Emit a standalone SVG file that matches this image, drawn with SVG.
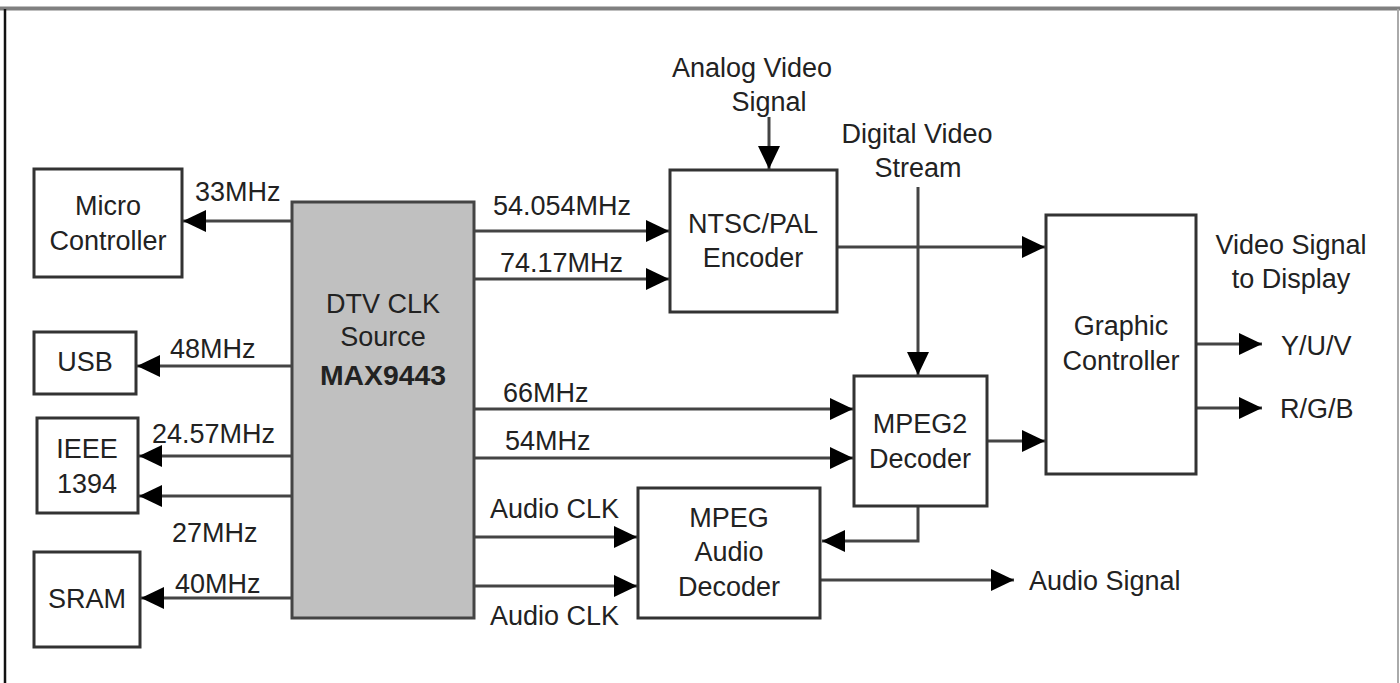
<svg xmlns="http://www.w3.org/2000/svg" width="1400" height="683" viewBox="0 0 1400 683">
<defs>
<style>
text{font-family:"Liberation Sans",Arial,sans-serif;font-size:27px;fill:#222}
.c{text-anchor:middle}
.b{font-weight:bold}
.box{fill:#fff;stroke:#333;stroke-width:3}
.src{fill:#c0c0c0;stroke:#444;stroke-width:3}
.ln{fill:none;stroke:#444;stroke-width:3}
</style>
<marker id="ah" markerUnits="userSpaceOnUse" markerWidth="24" markerHeight="22" refX="23" refY="11" orient="auto">
<path d="M0,0 L23,11 L0,22 z" fill="#000"/>
</marker>
</defs>
<rect width="1400" height="683" fill="#fff"/>
<g id="frame">
<line x1="0" y1="8.5" x2="1400" y2="8.5" stroke="#808080" stroke-width="4"/>
<line x1="5" y1="9" x2="5" y2="683" stroke="#111" stroke-width="2.5"/>
<line x1="1398" y1="9" x2="1398" y2="683" stroke="#aaa" stroke-width="2"/>
</g>
<g id="connectors">
<line class="ln" x1="292" y1="221" x2="183" y2="221" marker-end="url(#ah)"/>
<line class="ln" x1="292" y1="366" x2="137" y2="366" marker-end="url(#ah)"/>
<line class="ln" x1="292" y1="456" x2="139" y2="456" marker-end="url(#ah)"/>
<line class="ln" x1="292" y1="496" x2="139" y2="496" marker-end="url(#ah)"/>
<line class="ln" x1="292" y1="598" x2="141" y2="598" marker-end="url(#ah)"/>
<line class="ln" x1="475" y1="231" x2="669" y2="231" marker-end="url(#ah)"/>
<line class="ln" x1="475" y1="279" x2="669" y2="279" marker-end="url(#ah)"/>
<line class="ln" x1="769" y1="117" x2="769" y2="169" marker-end="url(#ah)"/>
<line class="ln" x1="918" y1="187" x2="918" y2="375" marker-end="url(#ah)"/>
<line class="ln" x1="837" y1="247" x2="1045" y2="247" marker-end="url(#ah)"/>
<line class="ln" x1="475" y1="409" x2="853" y2="409" marker-end="url(#ah)"/>
<line class="ln" x1="475" y1="458" x2="853" y2="458" marker-end="url(#ah)"/>
<line class="ln" x1="987" y1="441" x2="1045" y2="441" marker-end="url(#ah)"/>
<polyline class="ln" points="918,506 918,541 822,541" marker-end="url(#ah)"/>
<line class="ln" x1="475" y1="537" x2="637" y2="537" marker-end="url(#ah)"/>
<line class="ln" x1="475" y1="586" x2="637" y2="586" marker-end="url(#ah)"/>
<line class="ln" x1="820" y1="580" x2="1014" y2="580" marker-end="url(#ah)"/>
<line class="ln" x1="1196" y1="344" x2="1262" y2="344" marker-end="url(#ah)"/>
<line class="ln" x1="1196" y1="408" x2="1262" y2="408" marker-end="url(#ah)"/>
<text x="195" y="201">33MHz</text>
<text x="170" y="358">48MHz</text>
<text x="152" y="443">24.57MHz</text>
<text x="172" y="542">27MHz</text>
<text x="175" y="593">40MHz</text>
<text x="493" y="215">54.054MHz</text>
<text x="500" y="272">74.17MHz</text>
<text x="503" y="402">66MHz</text>
<text x="505" y="450">54MHz</text>
<text x="490" y="518">Audio CLK</text>
<text x="490" y="625">Audio CLK</text>
<text class="c" x="752" y="77">Analog Video</text>
<text class="c" x="769" y="111">Signal</text>
<text class="c" x="917" y="143">Digital Video</text>
<text class="c" x="918" y="177">Stream</text>
<text class="c" x="1291" y="254">Video Signal</text>
<text class="c" x="1291" y="288">to Display</text>
<text x="1281" y="355">Y/U/V</text>
<text x="1280" y="418">R/G/B</text>
<text x="1029" y="590">Audio Signal</text>
</g>
<g id="micro">
<rect class="box" x="34" y="169" width="148" height="108"/>
<text class="c" x="108" y="215">Micro</text>
<text class="c" x="108" y="250">Controller</text>
</g>
<g id="usb">
<rect class="box" x="34" y="332" width="102" height="62"/>
<text class="c" x="85" y="371">USB</text>
</g>
<g id="ieee">
<rect class="box" x="37" y="418" width="101" height="95"/>
<text class="c" x="87" y="458">IEEE</text>
<text class="c" x="87" y="493">1394</text>
</g>
<g id="sram">
<rect class="box" x="34" y="552" width="106" height="95"/>
<text class="c" x="87" y="608">SRAM</text>
</g>
<g id="dtv">
<rect class="src" x="292" y="202" width="182" height="416"/>
<text class="c" x="383" y="313">DTV CLK</text>
<text class="c" x="383" y="346">Source</text>
<text class="c b" x="383" y="385" textLength="126" lengthAdjust="spacingAndGlyphs">MAX9443</text>
</g>
<g id="encoder">
<rect class="box" x="670" y="170" width="167" height="142"/>
<text class="c" x="753" y="233">NTSC/PAL</text>
<text class="c" x="753" y="267">Encoder</text>
</g>
<g id="mpeg2">
<rect class="box" x="854" y="376" width="133" height="130"/>
<text class="c" x="920" y="433">MPEG2</text>
<text class="c" x="920" y="468">Decoder</text>
</g>
<g id="audio">
<rect class="box" x="638" y="488" width="182" height="130"/>
<text class="c" x="729" y="527">MPEG</text>
<text class="c" x="729" y="561">Audio</text>
<text class="c" x="729" y="596">Decoder</text>
</g>
<g id="graphic">
<rect class="box" x="1046" y="215" width="150" height="259"/>
<text class="c" x="1121" y="335">Graphic</text>
<text class="c" x="1121" y="370">Controller</text>
</g>
</svg>
